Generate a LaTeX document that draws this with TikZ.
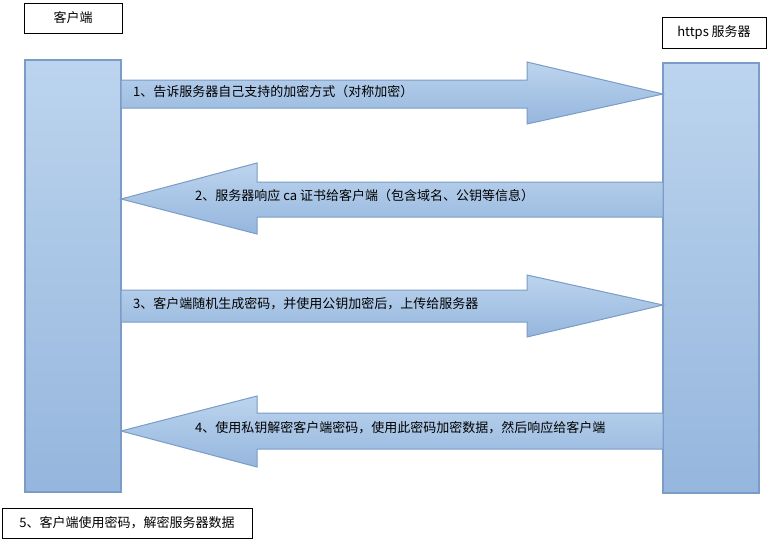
\documentclass[tikz,border=0pt]{standalone}
\usepackage{fontspec}
\setmainfont{Liberation Serif}
\newfontfamily\cjk{Noto Sans CJK SC}
\definecolor{edgeblue}{HTML}{7A9CC6}
\definecolor{topblue}{HTML}{BCD4EE}
\definecolor{botblue}{HTML}{95B6DD}
\tikzset{
    bar/.style={draw=edgeblue, line width=1.2pt, top color=topblue, bottom color=botblue},
    flow/.style={draw=edgeblue, line width=1pt, top color=topblue, bottom color=botblue, line join=miter},
    lbl/.style={font=\cjk\fontsize{13}{15}\selectfont, inner sep=0pt, anchor=west},
    tag/.style={draw, thin, font=\cjk\fontsize{13}{15}\selectfont, inner sep=0pt}
}
\begin{document}
\begin{tikzpicture}[x=1pt,y=-1pt]
    \useasboundingbox (0,0) rectangle (767,539);

    % client / server headings
    \node[tag, minimum width=98, minimum height=30] (client) at (73,18) {客户端};
    \node[tag, minimum width=104, minimum height=31] (server) at (714,32.5) {https 服务器};

    % life bars
    \draw[bar] (25,60) rectangle (121,492);
    \draw[bar] (663,63) rectangle (759,493);

    % messages
    \draw[flow] (121,80) -- (527,80) -- (527,62) -- (663,94) -- (527,124) -- (527,108) -- (121,108) -- cycle;
    \draw[flow] (663,182) -- (257,182) -- (257,163) -- (121,199) -- (257,234) -- (257,217) -- (663,217) -- cycle;
    \draw[flow] (121,290) -- (527,290) -- (527,275) -- (663,305) -- (527,337) -- (527,322) -- (121,322) -- cycle;
    \draw[flow] (663,413) -- (257,413) -- (257,396) -- (121,431) -- (257,467) -- (257,449) -- (663,449) -- cycle;

    \node[lbl] (m1) at (133,92) {1、告诉服务器自己支持的加密方式（对称加密）};
    \node[lbl] (m2) at (195,196) {2、服务器响应 ca 证书给客户端（包含域名、公钥等信息）};
    \node[lbl] (m3) at (133,304) {3、客户端随机生成密码，并使用公钥加密后，上传给服务器};
    \node[lbl] (m4) at (195,428) {4、使用私钥解密客户端密码，使用此密码加密数据，然后响应给客户端};

    % final step
    \node[tag, minimum width=250, minimum height=30] (m5) at (127,523) {5、客户端使用密码，解密服务器数据};
\end{tikzpicture}
\end{document}
